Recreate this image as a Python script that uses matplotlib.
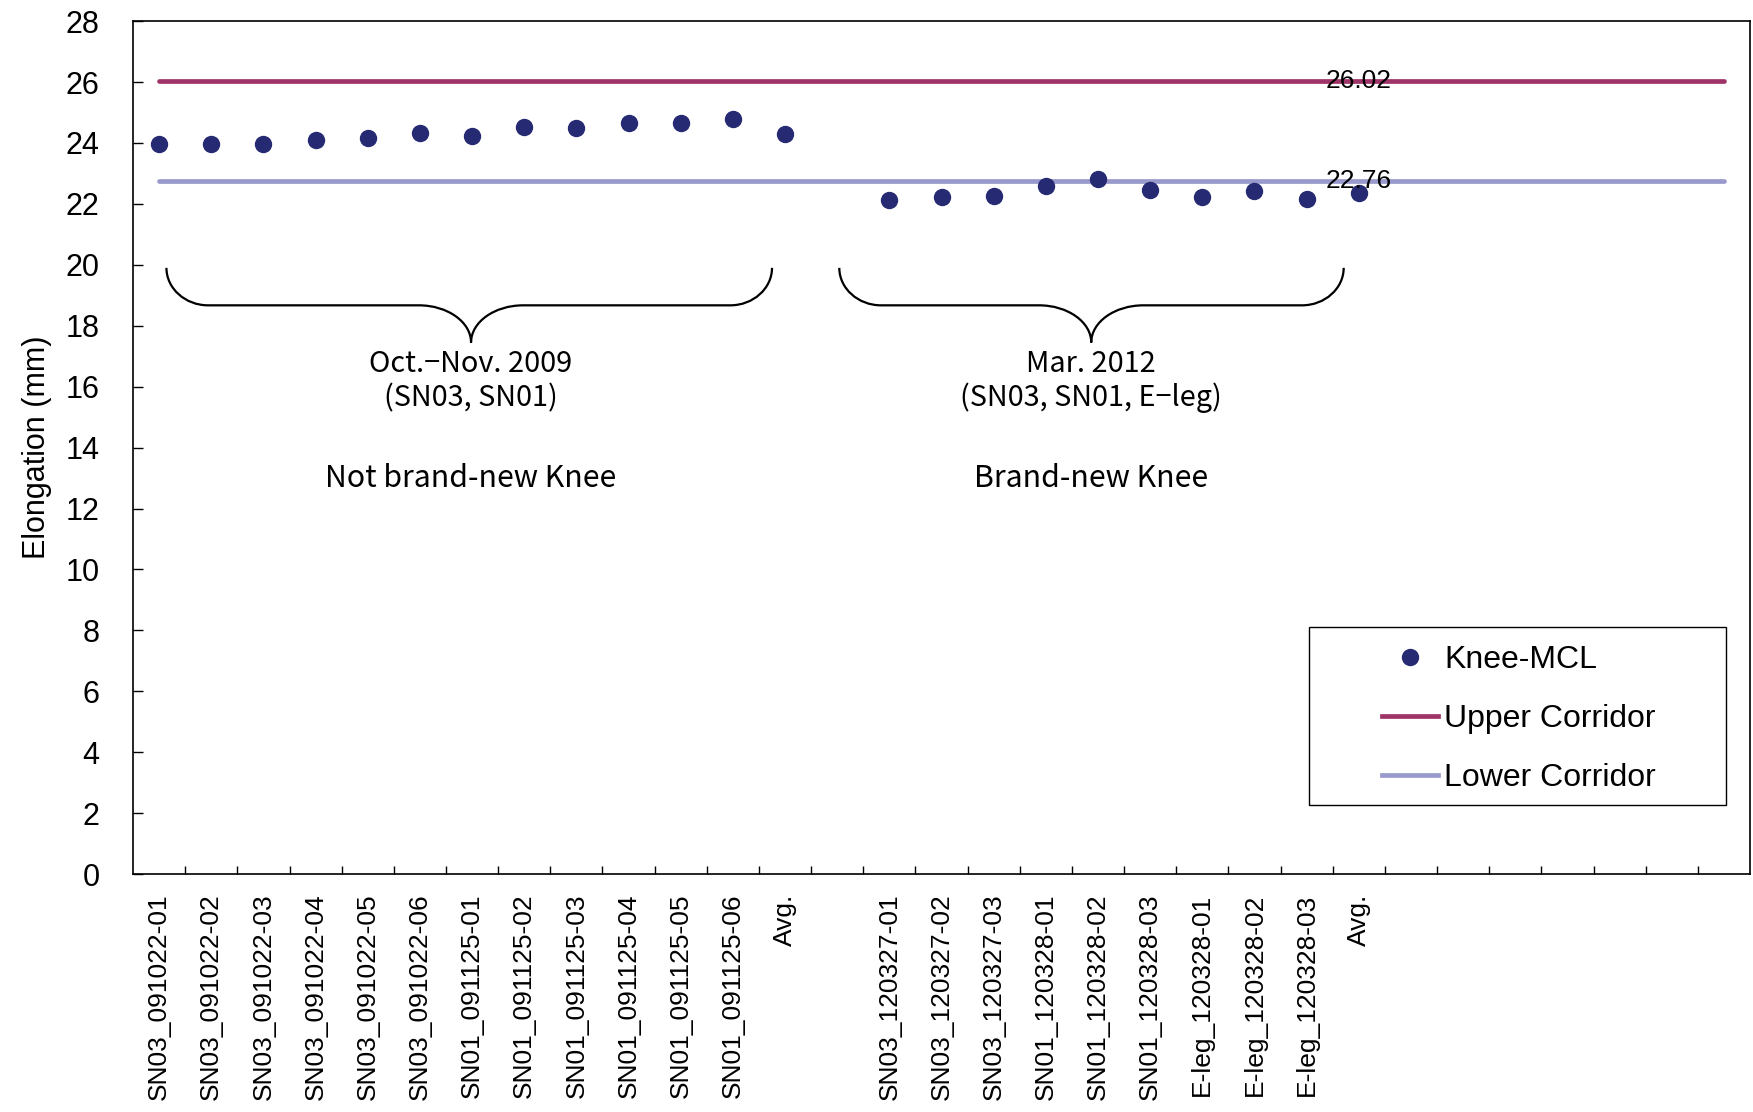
import numpy as np
import matplotlib.pyplot as plt
from matplotlib.path import Path
from matplotlib.patches import PathPatch, Rectangle
from matplotlib.lines import Line2D

plt.rcParams['font.family'] = ['Liberation Sans', 'DejaVu Sans']

# categories (last 7 slots of the axis are empty)
labels_2009 = ['SN03_091022-01', 'SN03_091022-02', 'SN03_091022-03', 'SN03_091022-04',
               'SN03_091022-05', 'SN03_091022-06', 'SN01_091125-01', 'SN01_091125-02',
               'SN01_091125-03', 'SN01_091125-04', 'SN01_091125-05', 'SN01_091125-06']
labels_2012 = ['SN03_120327-01', 'SN03_120327-02', 'SN03_120327-03', 'SN01_120328-01',
               'SN01_120328-02', 'SN01_120328-03', 'E-leg_120328-01', 'E-leg_120328-02',
               'E-leg_120328-03']
n_empty_end = 7

mcl_2009 = [23.95, 23.98, 23.98, 24.10, 24.15, 24.32, 24.24, 24.51, 24.49, 24.64, 24.64, 24.79]
avg_2009 = 24.31
mcl_2012 = [22.14, 22.22, 22.25, 22.59, 22.81, 22.47, 22.24, 22.41, 22.17]
avg_2012 = 22.35

upper_corridor = 26.02
lower_corridor = 22.76

categories = labels_2009 + ['Avg.', ''] + labels_2012 + ['Avg.'] + [''] * n_empty_end
values = mcl_2009 + [avg_2009, np.nan] + mcl_2012 + [avg_2012] + [np.nan] * n_empty_end
x = np.arange(len(categories))
avg2_idx = len(labels_2009) + 2 + len(labels_2012)

c_mcl = '#262a72'
c_up = '#9e3468'
c_lo = '#9999cc'

fig = plt.figure(figsize=(17.53, 11.12), dpi=100)
ax = fig.add_axes([0.0759, 0.214, 0.9224, 0.767])

ax.plot(x, [upper_corridor] * len(x), color=c_up, lw=3.4, solid_capstyle='round', zorder=2)
ax.plot(x, [lower_corridor] * len(x), color=c_lo, lw=3.4, solid_capstyle='round', zorder=2)
ax.plot(x, values, 'o', color=c_mcl, ms=11.5, zorder=3)

# data labels on the corridor lines
ax.text(x[avg2_idx], upper_corridor, f'{upper_corridor:.2f}', ha='center', va='center',
        fontsize=19, zorder=4)
ax.text(x[avg2_idx], lower_corridor, f'{lower_corridor:.2f}', ha='center', va='center',
        fontsize=19, zorder=4)

ax.set_xlim(-0.5, len(x) - 0.5)
ax.set_ylim(0, 28)
ax.set_yticks(np.arange(0, 29, 2))
ax.set_xticks(x)
ax.set_xticklabels(categories, rotation=90, fontsize=19)
ax.set_xticks(np.arange(0.5, len(x) - 1, 1), minor=True)
ax.tick_params(axis='x', which='major', length=0, pad=14)
ax.tick_params(axis='x', which='minor', direction='in', length=6, width=1)
ax.tick_params(axis='y', direction='in', length=7, width=1, labelsize=22, pad=24)
ax.set_ylabel('Elongation (mm)', fontsize=22, labelpad=10)
for s in ax.spines.values():
    s.set_linewidth(1.2)


def brace(ax, x0, x1, xc, ytop, ymid, ytip, r=0.8, r2=1.0):
    k = 0.55
    verts = [(x0, ytop),
             (x0, ymid + (ytop - ymid) * (1 - k)), (x0 + r * (1 - k), ymid), (x0 + r, ymid),
             (xc - r2, ymid),
             (xc - r2 * (1 - k), ymid), (xc, ymid - (ymid - ytip) * (1 - k)), (xc, ytip),
             (xc, ymid - (ymid - ytip) * (1 - k)), (xc + r2 * (1 - k), ymid), (xc + r2, ymid),
             (x1 - r, ymid),
             (x1 - r * (1 - k), ymid), (x1, ymid + (ytop - ymid) * (1 - k)), (x1, ytop)]
    codes = [Path.MOVETO, Path.CURVE4, Path.CURVE4, Path.CURVE4, Path.LINETO,
             Path.CURVE4, Path.CURVE4, Path.CURVE4, Path.CURVE4, Path.CURVE4, Path.CURVE4,
             Path.LINETO, Path.CURVE4, Path.CURVE4, Path.CURVE4]
    ax.add_patch(PathPatch(Path(verts, codes), fill=False, lw=1.6, color='black'))


ann_font = ['Noto Sans CJK JP', 'DejaVu Sans']
brace(ax, 0.14, 11.75, 5.98, 19.9, 18.67, 17.45)
brace(ax, 13.04, 22.71, 17.87, 19.9, 18.67, 17.45)
ax.text(5.98, 16.76, 'Oct.\u2212Nov. 2009', ha='center', va='center', fontsize=20.8, family=ann_font)
ax.text(5.98, 15.62, '(SN03, SN01)', ha='center', va='center', fontsize=20.8, family=ann_font)
ax.text(5.98, 12.98, 'Not brand-new Knee', ha='center', va='center', fontsize=21.8, family=ann_font)
ax.text(17.87, 16.76, 'Mar. 2012', ha='center', va='center', fontsize=20.8, family=ann_font)
ax.text(17.87, 15.62, '(SN03, SN01, E\u2212leg)', ha='center', va='center', fontsize=20.8, family=ann_font)
ax.text(17.87, 12.98, 'Brand-new Knee', ha='center', va='center', fontsize=21.8, family=ann_font)

# legend with a plain rectangular frame
ax.add_patch(Rectangle((0.727, 0.081), 0.258, 0.209, transform=ax.transAxes,
                       fill=False, edgecolor='black', lw=1.0, zorder=5))
handles = [Line2D([], [], ls='none', marker='o', color=c_mcl, ms=11.5),
           Line2D([], [], color=c_up, lw=3.4),
           Line2D([], [], color=c_lo, lw=3.4)]
ax.legend(handles, ['Knee-MCL', 'Upper Corridor', 'Lower Corridor'], loc='center',
          bbox_to_anchor=(0.857, 0.1815), frameon=False, fontsize=23,
          handlelength=1.75, handletextpad=0.2, labelspacing=0.9)

fig.savefig('out.png', dpi=100)
